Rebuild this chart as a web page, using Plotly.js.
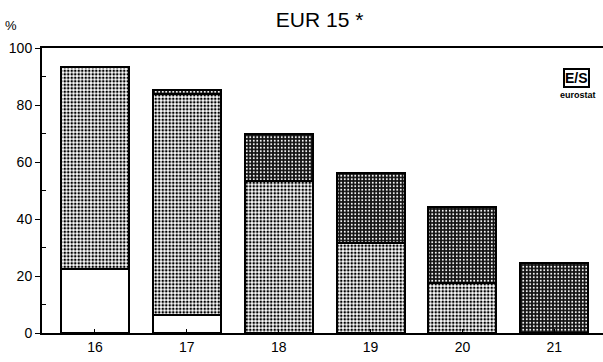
<!DOCTYPE html>
<html><head><meta charset="utf-8">
<script src="https://cdn.plot.ly/plotly-3.0.1.min.js"></script>
<style>html,body{margin:0;padding:0;background:#fff}</style>
</head><body>
<div id="chart" style="width:603px;height:362px"></div>
<script>
var ages = ['16','17','18','19','20','21'];
var whiteVals = [22.5, 6.3, 0, 0, 0, 0];
var lightVals = [70.8, 77.7, 53.3, 31.6, 17.5, 0];
var darkVals  = [0, 1.3, 16.7, 24.4, 26.7, 24.5];
var yTicks = [0, 20, 40, 60, 80, 100];

var line = {color:'#000', width:2};
var traces = [
  {type:'bar', x:ages, y:whiteVals, marker:{color:'#fff', line:line}, hoverinfo:'none'},
  {type:'bar', x:ages, y:lightVals, marker:{color:'#fff', line:line,
     pattern:{shape:'.', fgcolor:'#000', bgcolor:'#fff', size:3.5, solidity:0.45}}, hoverinfo:'none'},
  {type:'bar', x:ages, y:darkVals, marker:{color:'#000', line:line,
     pattern:{shape:'.', fgcolor:'#fff', bgcolor:'#111', size:3.5, solidity:0.25}}, hoverinfo:'none'}
];
var layout = {
  width:603, height:362,
  margin:{l:42, r:0, t:48, b:29},
  barmode:'stack', bargap:0.26, showlegend:false,
  paper_bgcolor:'#fff', plot_bgcolor:'#fff',
  font:{family:'Liberation Sans, Arial, sans-serif', color:'#000', size:14},
  title:{text:'EUR 15 *', x:0.53, xanchor:'center', y:0.945, yanchor:'middle', font:{size:21}},
  xaxis:{type:'category', range:[-0.576, 5.53], showline:true, linecolor:'#000', linewidth:2,
         mirror:true, ticks:'inside', ticklen:4, tickcolor:'#000', showgrid:false, zeroline:false,
         tickfont:{size:14}},
  yaxis:{range:[0,100], tickvals:yTicks, ticktext:yTicks.map(String), showline:true, linecolor:'#000', linewidth:2,
         ticks:'outside', ticklen:5, tickcolor:'#000', showgrid:false, zeroline:false,
         minor:{ticks:'inside', ticklen:4, tickcolor:'#000', tickvals:[10,30,50,70,90], showgrid:false},
         tickfont:{size:14}},
  annotations:[
    {text:'%', xref:'paper', yref:'paper', x:-0.055, y:1.08, xanchor:'center', yanchor:'middle', showarrow:false, font:{size:13}},
    {text:'<b>E/S</b>', xref:'paper', yref:'paper', x:0.952, y:0.895, xanchor:'center', yanchor:'middle', showarrow:false,
     font:{size:14}, bordercolor:'#000', borderwidth:2, borderpad:0},
    {text:'<b>eurostat</b>', xref:'paper', yref:'paper', x:0.955, y:0.835, xanchor:'center', yanchor:'middle', showarrow:false, font:{size:9}}
  ]
};
Plotly.newPlot('chart', traces, layout, {staticPlot:true});
</script>
</body></html>
